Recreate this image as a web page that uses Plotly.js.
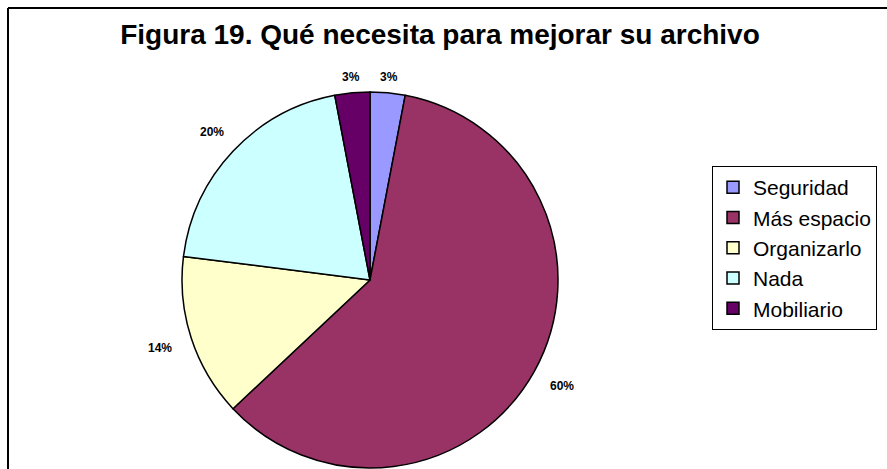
<!DOCTYPE html>
<html>
<head>
<meta charset="utf-8">
<script src="https://cdn.plot.ly/plotly-3.0.1.min.js"></script>
<style>html,body{margin:0;padding:0;background:#fff;}#chart{width:887px;height:469px;}</style>
</head>
<body>
<div id="chart"></div>
<script>
const titleText = 'Figura 19. Qué necesita para mejorar su archivo';
const labels = ['Seguridad', 'Más espacio', 'Organizarlo', 'Nada', 'Mobiliario'];
const values = [3, 60, 14, 20, 3];
const colors = ['#9999FF', '#993366', '#FFFFCC', '#CCFFFF', '#660066'];

const W = 887, H = 469;
const cx = 370, cy = 280, R = 188;
const FONT = 'Liberation Sans, Arial, sans-serif';

const total = values.reduce((a, b) => a + b, 0);
const annotations = [];
let cum = 0;
values.forEach((v, i) => {
  const f = (cum + v / 2) / total;
  cum += v;
  const th = 2 * Math.PI * f;
  const ux = Math.sin(th), uy = -Math.cos(th);
  const txt = Math.round(v / total * 100) + '%';
  const d = R + 14 + 20 * Math.abs(ux);
  annotations.push({
    x: (cx + d * ux) / W, y: 1 - (cy + d * uy) / H,
    xref: 'paper', yref: 'paper', xanchor: 'center', yanchor: 'middle',
    text: txt, showarrow: false,
    font: {family: FONT, size: 12, color: '#000', weight: 'bold'}
  });
});

const trace = {
  type: 'pie',
  labels: labels,
  values: values,
  sort: false,
  direction: 'clockwise',
  rotation: 0,
  textinfo: 'none',
  hoverinfo: 'label+percent',
  marker: {colors: colors, line: {color: '#000', width: 1.5}},
  domain: {x: [(cx - R) / W, (cx + R) / W], y: [1 - (cy + R) / H, 1 - (cy - R) / H]}
};

const layout = {
  width: W, height: H,
  margin: {l: 0, r: 0, t: 0, b: 0},
  paper_bgcolor: '#fff',
  showlegend: true,
  title: {
    text: titleText, x: 440 / W, xanchor: 'center', y: 1 - 34 / H, yanchor: 'middle',
    xref: 'paper', yref: 'paper',
    font: {family: FONT, size: 28, color: '#000', weight: 'bold'}
  },
  legend: {
    x: 712 / W, y: 1 - 166 / H, xanchor: 'left', yanchor: 'top',
    bordercolor: '#000', borderwidth: 1, bgcolor: '#fff',
    font: {family: FONT, size: 21, color: '#000'},
    itemwidth: 30,
    traceorder: 'normal'
  },
  annotations: annotations,
  shapes: [
    {type: 'line', xref: 'paper', yref: 'paper', x0: 8 / W, x1: 1, y0: 1 - 8 / H, y1: 1 - 8 / H, line: {color: '#000', width: 2}},
    {type: 'line', xref: 'paper', yref: 'paper', x0: 8 / W, x1: 8 / W, y0: 0, y1: 1 - 8 / H, line: {color: '#000', width: 2}}
  ]
};

Plotly.newPlot('chart', [trace], layout, {displayModeBar: false, staticPlot: true});
</script>
</body>
</html>
